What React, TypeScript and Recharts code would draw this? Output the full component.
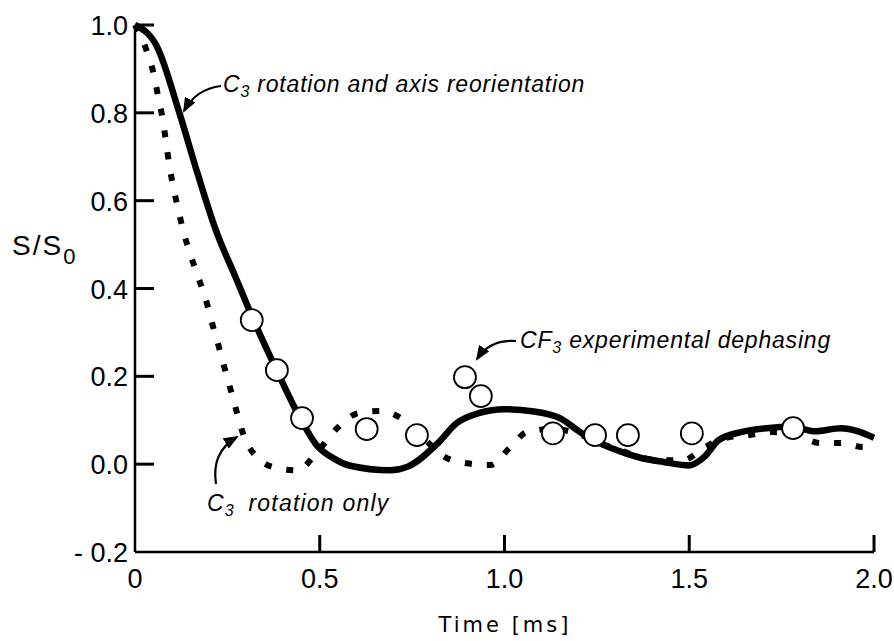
import { ComposedChart, Line, Scatter, XAxis, YAxis } from "recharts"

// C3 rotation and axis reorientation (solid)
const solidT = [0, 0.06, 0.12, 0.17, 0.22, 0.27, 0.32, 0.38, 0.45, 0.49, 0.54, 0.58, 0.69, 0.74, 0.82, 0.87, 0.93, 1.0, 1.08, 1.15, 1.21, 1.24, 1.29, 1.37, 1.43, 1.5, 1.54, 1.58, 1.64, 1.71, 1.78, 1.84, 1.91, 2.0]
const solidV = [1.0, 0.95, 0.8, 0.66, 0.53, 0.43, 0.33, 0.22, 0.1, 0.045, 0.012, -0.003, -0.014, -0.005, 0.048, 0.093, 0.116, 0.125, 0.12, 0.105, 0.07, 0.055, 0.036, 0.014, 0.005, -0.003, 0.016, 0.055, 0.073, 0.082, 0.085, 0.075, 0.082, 0.06]

// C3 rotation only (dotted)
const dotT = [0, 0.03, 0.05, 0.062, 0.074, 0.083, 0.093, 0.104, 0.117, 0.131, 0.149, 0.169, 0.19, 0.209, 0.226, 0.242, 0.257, 0.275, 0.293, 0.33, 0.384, 0.438, 0.5, 0.547, 0.604, 0.666, 0.725, 0.78, 0.839, 0.898, 0.961, 1.015, 1.061, 1.13, 1.196, 1.25, 1.313, 1.367, 1.426, 1.483, 1.543, 1.6, 1.659, 1.724, 1.78, 1.854, 1.913, 1.97, 2.0]
const dotV = [1.0, 0.945, 0.89, 0.84, 0.79, 0.74, 0.68, 0.63, 0.58, 0.53, 0.48, 0.43, 0.38, 0.32, 0.27, 0.22, 0.175, 0.12, 0.068, 0.016, -0.009, -0.014, 0.035, 0.082, 0.116, 0.121, 0.102, 0.06, 0.016, 0.002, -0.002, 0.038, 0.073, 0.08, 0.07, 0.05, 0.032, 0.016, 0.009, 0.009, 0.039, 0.06, 0.066, 0.073, 0.07, 0.048, 0.048, 0.039, 0.04]

// CF3 experimental dephasing (circles)
const expT = [0.316, 0.384, 0.452, 0.627, 0.763, 0.893, 0.936, 1.131, 1.245, 1.334, 1.507, 1.781]
const expV = [0.328, 0.214, 0.105, 0.08, 0.066, 0.198, 0.155, 0.07, 0.066, 0.066, 0.07, 0.082]

const xTicks = [0, 0.5, 1.0, 1.5, 2.0]
const yTicks = [-0.2, 0, 0.2, 0.4, 0.6, 0.8, 1.0]

const zip = (ts: number[], vs: number[]) => ts.map((t, i) => ({ t, v: vs[i] }))
const solidData = zip(solidT, solidV)
const dotData = zip(dotT, dotV)
const expData = zip(expT, expV)
// anchor points for the inward tick marks, placed through the chart's own scales
const yMarkData = yTicks.filter((v) => v > -0.2).map((v) => ({ t: 0, v }))
const xMarkData = xTicks.filter((t) => t > 0).map((t) => ({ t, v: -0.2 }))

const FONT = "'Liberation Sans', Arial, sans-serif"

function YTick(props: any) {
    const { x, y, payload } = props
    const v = payload.value
    return (
        <text x={x} y={y + 10} textAnchor="end" fontSize={27} fontFamily={FONT} fill="#000">
            {v < 0 ? "- " + Math.abs(v).toFixed(1) : v.toFixed(1)}
        </text>
    )
}

function XTick(props: any) {
    const { x, y, payload } = props
    const v = payload.value
    return (
        <text x={x} y={y + 36} textAnchor="middle" fontSize={27} fontFamily={FONT} fill="#000">
            {v === 0 ? "0" : v.toFixed(1)}
        </text>
    )
}

const ital = { fontSize: 23, letterSpacing: 0.8, fontStyle: "italic", fontFamily: FONT, fill: "#000" } as const

export default function App() {
    return (
        <div style={{ position: "absolute", left: 0, top: 0, background: "#fff" }}>
            <ComposedChart width={894} height={641} margin={{ top: 25, right: 20, left: 0, bottom: 0 }}>
                <defs>
                    <marker id="ah" markerWidth="15" markerHeight="12" refX="13" refY="6" orient="auto" markerUnits="userSpaceOnUse">
                        <path d="M0,0 L15,6 L0,12 Z" fill="#000" />
                    </marker>
                </defs>
                <XAxis
                    type="number"
                    dataKey="t"
                    domain={[0, 2]}
                    ticks={xTicks}
                    height={89}
                    tickSize={0}
                    tickMargin={0}
                    tickLine={false}
                    axisLine={{ stroke: "#000", strokeWidth: 2.5 }}
                    tick={XTick}
                    interval={0}
                />
                <YAxis
                    type="number"
                    dataKey="v"
                    domain={[-0.2, 1.0]}
                    ticks={yTicks}
                    width={135}
                    tickSize={0}
                    tickMargin={7}
                    tickLine={false}
                    axisLine={{ stroke: "#000", strokeWidth: 2.5 }}
                    tick={YTick}
                    interval={0}
                />
                <Scatter
                    data={yMarkData}
                    dataKey="v"
                    isAnimationActive={false}
                    shape={(p: any) => <rect x={p.cx} y={p.cy - 1.5} width={19} height={3} fill="#000" />}
                />
                <Scatter
                    data={xMarkData}
                    dataKey="v"
                    isAnimationActive={false}
                    shape={(p: any) => <rect x={p.cx - 1.5} y={p.cy - 17} width={3} height={17} fill="#000" />}
                />
                <Line data={solidData} dataKey="v" type="monotone" stroke="#000" strokeWidth={6.5} dot={false} isAnimationActive={false} />
                <Line data={dotData} dataKey="v" type="monotone" stroke="#000" strokeWidth={6} strokeDasharray="7 15" dot={false} isAnimationActive={false} />
                <Scatter
                    data={expData}
                    dataKey="v"
                    isAnimationActive={false}
                    shape={(p: any) => <circle cx={p.cx} cy={p.cy} r={11} fill="#fff" stroke="#000" strokeWidth={1.8} />}
                />
                <text x={12} y={255} fontSize={28} letterSpacing={2} fontFamily={FONT} fill="#000">
                    S/S<tspan dy={9} fontSize={22}>0</tspan>
                </text>
                <text x={505} y={632} textAnchor="middle" fontSize={21} letterSpacing={3} fontFamily="'DejaVu Sans', sans-serif" fill="#000">
                    Time [ms]
                </text>
                <text x={223} y={92} {...ital}>
                    C<tspan dy={5} fontSize={16}>3</tspan><tspan dy={-5}> rotation and axis reorientation</tspan>
                </text>
                <path d="M221,86 Q196,89 184,111" fill="none" stroke="#000" strokeWidth={2.2} markerEnd="url(#ah)" />
                <text x={520} y={348} {...ital}>
                    CF<tspan dy={5} fontSize={16}>3</tspan><tspan dy={-5}> experimental dephasing</tspan>
                </text>
                <path d="M516,341 Q490,339 477,359" fill="none" stroke="#000" strokeWidth={2.2} markerEnd="url(#ah)" />
                <text x={207} y={511} {...ital} letterSpacing={1.2}>
                    C<tspan dy={5} fontSize={16}>3</tspan><tspan dy={-5} dx={6}> rotation only</tspan>
                </text>
                <path d="M216,484 Q211,452 237,437" fill="none" stroke="#000" strokeWidth={2.2} markerEnd="url(#ah)" />
            </ComposedChart>
        </div>
    )
}
